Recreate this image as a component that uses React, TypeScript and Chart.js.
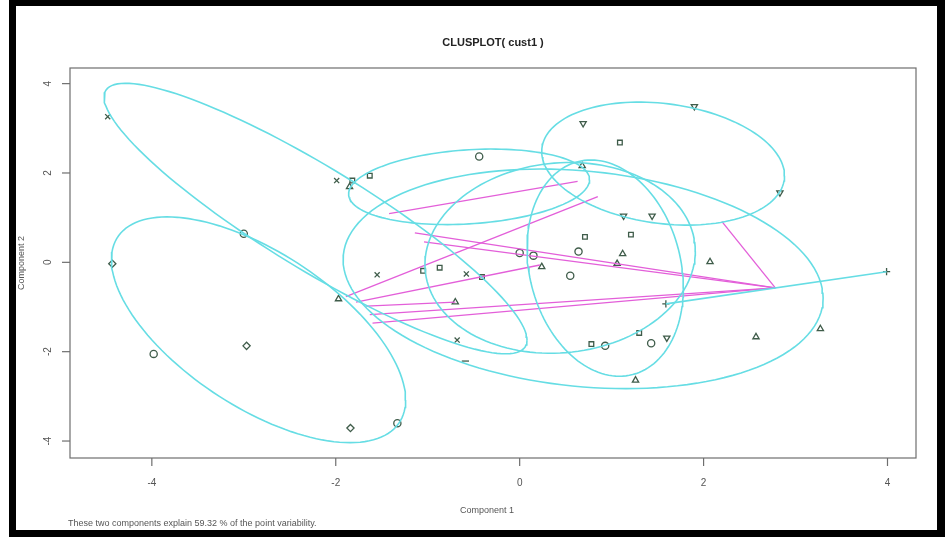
import React, { useEffect, useRef } from "react";
import { Chart, registerables } from "chart.js";
Chart.register(...registerables);

// ---- axes ----
const xTicks = [-4, -2, 0, 2, 4];
const yTicks = [-4, -2, 0, 2, 4];
const xMin = -4.89, xMax = 4.31;
const yMin = -4.38, yMax = 4.35;

const titleText = "CLUSPLOT( cust1 )";
const xTitle = "Component 1";
const yTitle = "Component 2";
const noteText = "These two components explain 59.32 % of the point variability.";

// ---- points by marker ----
const crossX = [-4.48, -1.99, -1.55, -0.68, -0.58];
const crossY = [3.26, 1.83, -0.28, -1.74, -0.26];

const triX = [-1.85, 0.68, 1.12, 1.06, 0.24, -0.70, 2.07, 2.57, 3.27, 1.26, -1.97];
const triY = [1.69, 2.16, 0.19, -0.03, -0.10, -0.89, 0.01, -1.67, -1.49, -2.64, -0.82];

const downX = [0.69, 1.90, 2.83, 1.13, 1.44, 1.60];
const downY = [3.11, 3.49, 1.56, 1.04, 1.04, -1.69];

const sqX = [-1.82, -1.63, 0.71, 1.21, -0.41, -0.87, 0.78, 1.30, -1.05, 1.09];
const sqY = [1.83, 1.94, 0.57, 0.62, -0.33, -0.12, -1.83, -1.58, -0.19, 2.68];

const circX = [-0.44, 0.64, 0.0, 0.15, 0.55, 0.93, 1.43, -3.98, -1.33, -3.00];
const circY = [2.37, 0.24, 0.21, 0.15, -0.30, -1.87, -1.81, -2.05, -3.60, 0.64];

const diaX = [-4.43, -2.97, -1.84];
const diaY = [-0.03, -1.87, -3.71];

const plusX = [3.99, 1.59];
const plusY = [-0.21, -0.93];

const dashX = [-0.59];
const dashY = [-2.21];

// ---- cluster ellipses: centre + two conjugate semi-diameters (data units) ----
const ellCx = [-2.22, -2.84, 1.56, -0.55, 0.44, 0.93, 0.69];
const ellCy = [0.98, -1.51, 2.21, 1.69, 0.10, -0.13, -0.37];
const ellUx = [2.30, 1.60, 1.32, 1.31, 1.47, 0.85, 2.61];
const ellUy = [-2.72, -1.57, -0.27, 0.16, 0.15, -0.44, -0.43];
const ellVy = [1.33, 1.98, 1.35, 0.83, 2.13, 2.38, 2.42];

// ---- segments between clusters ----
const segX1 = [-1.42, -1.89, -1.78, -1.67, -1.63, -1.60, -1.14, -1.04, 2.20];
const segY1 = [1.09, -0.77, -0.89, -0.98, -1.17, -1.36, 0.66, 0.46, 0.91];
const segX2 = [0.63, 0.85, 0.22, -0.70, 2.78, 2.78, 2.78, 2.78, 2.78];
const segY2 = [1.81, 1.47, -0.06, -0.89, -0.57, -0.57, -0.57, -0.57, -0.57];

const PT = "#3f5c4a";
const CY = "#66dde4";
const MG = "#e35fd9";

function ellipse(i: number) {
  const out: { x: number; y: number }[] = [];
  const n = 140;
  for (let k = 0; k <= n; k++) {
    const t = (k / n) * Math.PI * 2;
    out.push({
      x: ellCx[i] + ellUx[i] * Math.cos(t),
      y: ellCy[i] + ellUy[i] * Math.cos(t) + ellVy[i] * Math.sin(t),
    });
  }
  return out;
}

const zip = (xs: number[], ys: number[]) => xs.map((x, i) => ({ x, y: ys[i] }));

const decor = {
  id: "decor",
  beforeDraw(chart: any) {
    const c = chart.ctx;
    c.save();
    c.fillStyle = "#ffffff";
    c.fillRect(0, 0, chart.width, chart.height);
    c.restore();
  },
  afterDraw(chart: any) {
    const c = chart.ctx;
    const a = chart.chartArea;
    const xs = chart.scales.x;
    const ys = chart.scales.y;
    c.save();
    c.strokeStyle = "#6e6e6e";
    c.lineWidth = 1.2;
    c.strokeRect(a.left, a.top, a.right - a.left, a.bottom - a.top);
    c.fillStyle = "#555";
    c.font = "10px 'Liberation Sans', Arial, sans-serif";
    c.textAlign = "center";
    c.textBaseline = "middle";
    xTicks.forEach((v) => {
      const px = xs.getPixelForValue(v);
      c.beginPath();
      c.moveTo(px, a.bottom);
      c.lineTo(px, a.bottom + 8);
      c.stroke();
      c.fillText(String(v), px, a.bottom + 25);
    });
    yTicks.forEach((v) => {
      const py = ys.getPixelForValue(v);
      c.beginPath();
      c.moveTo(a.left, py);
      c.lineTo(a.left - 8, py);
      c.stroke();
      c.save();
      c.translate(a.left - 22, py);
      c.rotate(-Math.PI / 2);
      c.fillText(String(v), 0, 0);
      c.restore();
    });
    c.fillStyle = "#222";
    c.font = "bold 11px 'Liberation Sans', Arial, sans-serif";
    c.fillText(titleText, (a.left + a.right) / 2, 43);
    c.fillStyle = "#555";
    c.font = "9px 'Liberation Sans', Arial, sans-serif";
    c.fillText(xTitle, (a.left + a.right) / 2 - 6, 511);
    c.save();
    c.translate(22, (a.top + a.bottom) / 2);
    c.rotate(-Math.PI / 2);
    c.fillText(yTitle, 0, 0);
    c.restore();
    c.textAlign = "left";
    c.fillText(noteText, 68, 524);
    c.fillStyle = "#000";
    c.fillRect(9, 0, 936, 6);
    c.fillRect(9, 0, 7, 537);
    c.fillRect(937, 0, 8, 537);
    c.fillRect(9, 530, 936, 7);
    c.restore();
  },
};

export default function App() {
  const ref = useRef<HTMLCanvasElement | null>(null);
  useEffect(() => {
    document.body.style.margin = "0";
    const canvas = ref.current!;
    const datasets: any[] = [];
    ellCx.forEach((_, i) => {
      datasets.push({
        type: "line",
        data: ellipse(i),
        borderColor: CY,
        borderWidth: 1.6,
        pointRadius: 0,
        fill: false,
        tension: 0,
      });
    });
    datasets.push({
      type: "line",
      data: zip(plusX, plusY),
      borderColor: CY,
      borderWidth: 1.6,
      pointRadius: 0,
      fill: false,
    });
    segX1.forEach((_, i) => {
      datasets.push({
        type: "line",
        data: [
          { x: segX1[i], y: segY1[i] },
          { x: segX2[i], y: segY2[i] },
        ],
        borderColor: MG,
        borderWidth: 1.3,
        pointRadius: 0,
        fill: false,
      });
    });
    const mk = (xs: number[], ys: number[], style: string, rot = 0, r = 3.6) => ({
      type: "scatter",
      data: zip(xs, ys),
      pointStyle: style,
      rotation: rot,
      pointRadius: r,
      borderColor: PT,
      backgroundColor: "rgba(0,0,0,0)",
      borderWidth: 1.3,
      showLine: false,
    });
    datasets.push(mk(crossX, crossY, "crossRot"));
    datasets.push(mk(triX, triY, "triangle"));
    datasets.push(mk(downX, downY, "triangle", 180));
    datasets.push(mk(sqX, sqY, "rect", 0, 3.3));
    datasets.push(mk(circX, circY, "circle"));
    datasets.push(mk(diaX, diaY, "rectRot"));
    datasets.push(mk(plusX, plusY, "cross"));
    datasets.push(mk(dashX, dashY, "line"));

    const chart = new Chart(canvas, {
      type: "scatter",
      data: { datasets },
      options: {
        animation: false,
        responsive: false,
        devicePixelRatio: 1,
        layout: { padding: { left: 70, top: 68, right: 29, bottom: 79 } },
        plugins: { legend: { display: false }, tooltip: { enabled: false }, title: { display: false } },
        scales: {
          x: { type: "linear", min: xMin, max: xMax, display: false },
          y: { type: "linear", min: yMin, max: yMax, display: false },
        },
      },
      plugins: [decor],
    } as any);
    return () => chart.destroy();
  }, []);
  return (
    <div style={{ width: 945, height: 537, position: "relative" }}>
      <canvas ref={ref} width={945} height={537} style={{ width: 945, height: 537, display: "block" }} />
    </div>
  );
}
